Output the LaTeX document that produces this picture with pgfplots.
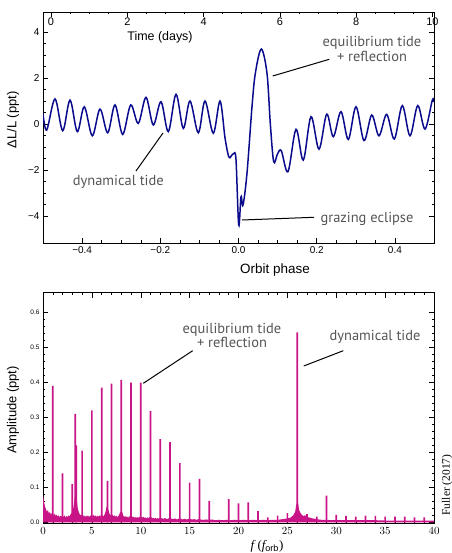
\documentclass[border=0pt]{standalone}
\usepackage{fontspec}
\setmainfont{Liberation Sans}
\newfontfamily\annfont{PT Sans}
\newfontfamily\seriffont{Liberation Serif}
\usepackage{pgfplots}
\pgfplotsset{compat=1.18}
\definecolor{navyc}{RGB}{10,10,140}
\definecolor{pinkc}{RGB}{200,20,135}
\definecolor{anngray}{RGB}{85,85,85}
\pgfplotsset{mystyle/.style={scale only axis, width=391bp, height=231bp,
  tick align=inside, major tick length=5bp, minor tick length=2.5bp,
  every tick/.style={black, line width=0.5bp}, axis line style={line width=0.8bp}}}
\begin{document}
\begin{tikzpicture}
% ---------------- top panel ----------------
\begin{axis}[mystyle, at={(43bp,310bp)}, anchor=south west,
  xmin=-0.5, xmax=0.5, ymin=-5.17, ymax=4.87,
  xtick={-0.4,-0.2,0,0.2,0.4}, xticklabels={−0.4,−0.2,0.0,0.2,0.4},
  minor x tick num=3, xtick pos=left,
  ytick={-4,-2,0,2,4}, yticklabels={−4,−2,0,2,4}, minor y tick num=3,
  ytick pos=both, yticklabel pos=left,
  tick label style={font=\fontsize{10}{10}\selectfont}]
\addplot[navyc, line width=1.5bp, smooth, tension=0.55] coordinates {
(-0.5,0.45) (-0.4905,-0.26) (-0.4693,1.09) (-0.4496,-0.29) (-0.4309,1.04)
(-0.4123,-0.33) (-0.3944,0.75) (-0.3739,-0.51) (-0.3542,0.65) (-0.3345,-0.38)
(-0.3159,0.83) (-0.2962,-0.45) (-0.2757,0.83) (-0.2563,0.03) (-0.2366,1.16)
(-0.2179,-0.04) (-0.1982,0.97) (-0.1795,-0.33) (-0.1598,1.29) (-0.1412,-0.19)
(-0.1240,1.0) (-0.1028,-0.38) (-0.0857,1.0) (-0.0645,-0.4) (-0.0473,1.0)
(-0.0345,-0.6) (-0.0251,-1.42) (-0.0192,-1.40) (-0.0123,-1.28) (-0.0064,-1.55)
(0.0005,-4.39) (0.0064,-3.16) (0.0115,-3.52) (0.0217,-2.14) (0.0345,0.75)
(0.0430,2.2) (0.0583,3.26) (0.0729,2.2) (0.0813,0.03) (0.0900,-1.64)
(0.0997,-1.3) (0.1095,-1.16) (0.1266,-2.07) (0.1471,-0.23) (0.1657,-1.57)
(0.1854,0.32) (0.2059,-1.09) (0.2256,0.43) (0.2425,-0.55) (0.2621,0.54)
(0.2808,-0.67) (0.3005,0.75) (0.3210,-0.72) (0.3407,0.39) (0.3593,-0.51)
(0.3790,0.42) (0.3985,-0.65) (0.4189,0.8) (0.4386,-0.51) (0.4583,0.8)
(0.4770,-0.22) (0.4957,1.04) (0.5,0.95)};
\end{axis}
\begin{axis}[mystyle, at={(43bp,310bp)}, anchor=south west,
  xmin=-0.21, xmax=10.04, ymin=0, ymax=1,
  axis x line*=top, axis y line=none,
  xtick={0,2,4,6,8,10}, xticklabels={0,2,4,6,8,10}, minor x tick num=3,
  xticklabel style={anchor=north, yshift=-2bp, font=\fontsize{11}{11}\selectfont}]
\end{axis}
% ---------------- bottom panel ----------------
\begin{axis}[mystyle, at={(43bp,29.3bp)}, anchor=south west,
  xmin=0, xmax=40, ymin=-0.004, ymax=0.656,
  xtick={0,5,10,15,20,25,30,35,40}, minor x tick num=4,
  ytick={0,0.1,0.2,0.3,0.4,0.5,0.6},
  yticklabels={0.0,0.1,0.2,0.3,0.4,0.5,0.6}, minor y tick num=4,
  xticklabel style={font=\fontsize{10.5}{10.5}\selectfont},
  yticklabel style={font=\fontsize{6.5}{6.5}\selectfont}]
\addplot[fill=pinkc, draw=none] coordinates {
(0,0.075) (0.05,0.07) (0.1,0.06) (0.2,0.045) (0.3,0.038) (0.4,0.03) (0.5,0.035)
(0.6,0.025) (0.7,0.03) (0.8,0.022) (0.9,0.026) (1.1,0.02) (1.2,0.025) (1.3,0.018)
(1.4,0.022) (1.5,0.016) (1.6,0.02) (1.7,0.015) (1.8,0.019) (1.9,0.017) (2.1,0.016)
(2.2,0.02) (2.3,0.014) (2.4,0.018) (2.5,0.015) (2.6,0.02) (2.7,0.016) (2.8,0.022)
(2.9,0.025) (3.0,0.03) (3.1,0.04) (3.2,0.06) (3.35,0.09) (3.45,0.07) (3.55,0.04)
(3.65,0.03) (3.8,0.02) (3.9,0.022) (4.1,0.018) (4.2,0.02) (4.3,0.015) (4.4,0.019)
(4.5,0.016) (4.6,0.02) (4.7,0.015) (4.8,0.018) (4.9,0.02) (5.1,0.018) (5.2,0.022)
(5.3,0.016) (5.4,0.02) (5.5,0.015) (5.6,0.019) (5.7,0.016) (5.8,0.02) (5.9,0.018)
(6.1,0.02) (6.2,0.017) (6.3,0.022) (6.4,0.03) (6.5,0.045) (6.7,0.035) (6.8,0.025)
(6.9,0.02) (7.1,0.022) (7.2,0.017) (7.3,0.02) (7.4,0.016) (7.5,0.019) (7.6,0.015)
(7.7,0.018) (7.8,0.022) (7.9,0.03) (8.1,0.03) (8.2,0.02) (8.3,0.015) (8.4,0.018)
(8.5,0.014) (8.6,0.017) (8.7,0.013) (8.8,0.016) (8.9,0.018) (9.1,0.017) (9.2,0.014)
(9.3,0.016) (9.4,0.012) (9.5,0.015) (9.6,0.012) (9.7,0.015) (9.8,0.013) (9.9,0.016)
(10.1,0.015) (10.2,0.013) (10.3,0.016) (10.4,0.012) (10.5,0.014) (10.6,0.011)
(10.7,0.014) (10.8,0.012) (10.9,0.015) (11.1,0.014) (11.2,0.011) (11.3,0.013)
(11.4,0.01) (11.5,0.013) (11.6,0.01) (11.7,0.012) (11.8,0.01) (11.9,0.013)
(12.1,0.012) (12.3,0.01) (12.5,0.012) (12.7,0.009) (12.9,0.012) (13.1,0.011)
(13.3,0.009) (13.5,0.011) (13.7,0.008) (13.9,0.011) (14.1,0.01) (14.3,0.008)
(14.5,0.01) (14.7,0.008) (14.9,0.01) (15.1,0.009) (15.3,0.008) (15.5,0.009)
(15.7,0.007) (15.9,0.009) (16.1,0.008) (16.4,0.007) (16.7,0.008) (17.0,0.007)
(17.3,0.008) (17.6,0.006) (18,0.007) (18.4,0.006) (18.8,0.007) (19.2,0.006)
(19.6,0.007) (20,0.006) (20.5,0.007) (21,0.006) (21.5,0.007) (22,0.006)
(22.5,0.007) (23,0.006) (23.5,0.007) (24,0.007) (24.5,0.009) (25,0.011)
(25.3,0.013) (25.6,0.02) (25.8,0.03) (25.9,0.05) (26.1,0.055) (26.2,0.035)
(26.4,0.024) (26.6,0.018) (26.8,0.02) (27,0.016) (27.3,0.013) (27.6,0.011)
(28,0.009) (28.5,0.007) (29,0.007) (29.5,0.006) (30,0.006) (31,0.006) (32,0.006)
(33,0.006) (34,0.006) (35,0.005) (36,0.005) (37,0.005) (38,0.005) (39,0.005)
(40,0.005)} \closedcycle;
\addplot[ybar, bar width=1.7bp, bar shift=0pt, fill=pinkc, draw=none] coordinates {
(1,0.39) (2,0.14) (3,0.109) (3.3,0.31) (3.4,0.22) (4,0.205) (5,0.32) (6,0.385)
(6.6,0.118) (7,0.396) (8,0.407) (9,0.399) (10,0.399) (11,0.318) (12,0.238)
(13,0.229) (14,0.169) (15,0.113) (16,0.124) (17,0.061) (19,0.066) (20,0.054)
(21,0.057) (22,0.032) (23,0.014) (24,0.019) (25,0.026) (26,0.543) (27,0.023)
(28,0.016) (29,0.076) (30,0.021) (31,0.018) (32,0.016) (33,0.019) (34,0.018)
(35,0.016) (36,0.016) (37,0.016) (38,0.014) (39,0.014)};
\end{axis}
% ---------------- labels ----------------
\node[rotate=90, font=\fontsize{13}{13}\selectfont] at (13bp,433bp) {ΔL/L (ppt)};
\node[font=\fontsize{13.5}{13.5}\selectfont] at (275bp,283bp) {Orbit phase};
\node[font=\fontsize{12.5}{12.5}\selectfont] at (160bp,515.5bp) {Time (days)};
\node[rotate=90, font=\fontsize{13}{13}\selectfont] at (13bp,143bp) {Amplitude (ppt)};
\node[font=\seriffont\fontsize{13}{13}\selectfont] at (267bp,7bp) {\itshape f\upshape\ (\itshape f\upshape$_{\mathrm{orb}}$)};
\node[rotate=90, font=\seriffont\fontsize{11.5}{11.5}\selectfont] at (447bp,68bp) {Fuller (2017)};
% annotations
\begin{scope}[every node/.style={font=\annfont\fontsize{14.5}{15}\selectfont, text=anngray, align=center, inner sep=0pt}]
\node at (372bp,504bp) {equilibrium tide\\+ reflection};
\node at (118.3bp,371.3bp) {dynamical tide};
\node at (367bp,333.7bp) {grazing eclipse};
\node at (232bp,217.5bp) {equilibrium tide\\+ reflection};
\node at (375bp,215.7bp) {dynamical tide};
\end{scope}
\draw[line width=1bp] (272.7bp,477bp) -- (329.3bp,493.7bp);
\draw[line width=1bp] (136bp,382bp) -- (163bp,420bp);
\draw[line width=1bp] (242bp,333bp) -- (314bp,335.7bp);
\draw[line width=1bp] (143.3bp,169.7bp) -- (192.7bp,202.3bp);
\draw[line width=1bp] (303.7bp,187bp) -- (343.3bp,202.3bp);
\pgfresetboundingbox
\path (0,0) rectangle (452bp,553bp);
\end{tikzpicture}
\end{document}
